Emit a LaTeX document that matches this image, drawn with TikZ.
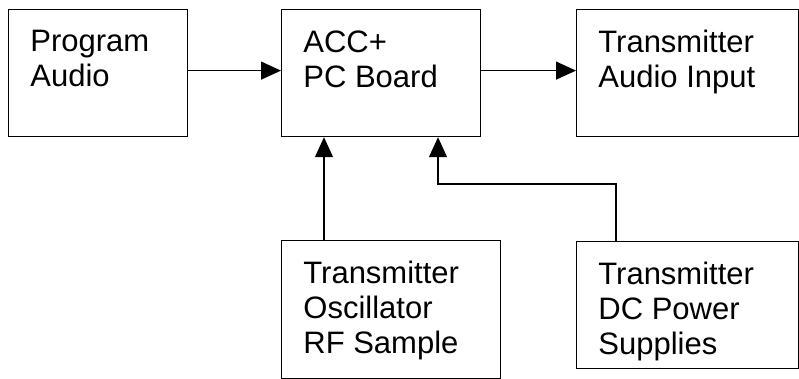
\documentclass[tikz,border=0pt]{standalone}
\usepackage{fontspec}
\setmainfont{Liberation Sans}
\usetikzlibrary{arrows.meta}
\tikzset{
  blk/.style={draw,rectangle,anchor=north west,inner sep=0pt,line width=0.6pt},
  lbl/.style={anchor=north west,inner sep=0pt,xshift=11pt,yshift=-10.5pt,align=left,
    font=\fontsize{15.5}{17.5}\selectfont},
  arr/.style={line width=0.6pt,-{Triangle[length=10pt,width=9pt]}}
}
\begin{document}
\begin{tikzpicture}[x=0.5pt,y=-0.5pt]
  \useasboundingbox (0,0) rectangle (799,379);
  % boxes
  \node[blk,minimum width=89.5pt,minimum height=63.5pt] (prog) at (8,9) {};
  \node[blk,minimum width=99.5pt,minimum height=63.5pt] (acc) at (281,9) {};
  \node[blk,minimum width=111.2pt,minimum height=63.5pt] (aud) at (576,9) {};
  \node[blk,minimum width=109.5pt,minimum height=69pt] (osc) at (281,240) {};
  \node[blk,minimum width=111.2pt,minimum height=63.5pt] (pwr) at (576,241) {};
  % texts
  \node[lbl] (progtxt) at (prog.north west) {Program\\Audio};
  \node[lbl] (acctxt) at (acc.north west) {ACC+\\PC Board};
  \node[lbl] (audtxt) at (aud.north west) {Transmitter\\Audio Input};
  \node[lbl] (osctxt) at (osc.north west) {Transmitter\\Oscillator\\RF Sample};
  \node[lbl] (pwrtxt) at (pwr.north west) {Transmitter\\DC Power\\Supplies};
  % connectors
  \draw[arr] ([yshift=1.25pt]prog.east) -- ([yshift=1.25pt]acc.west);
  \draw[arr] ([yshift=1.25pt]acc.east) -- ([yshift=1.25pt]aud.west);
  \draw[arr] ([xshift=21.5pt]osc.north west) -- ([xshift=21.5pt]acc.south west);
  \draw[arr] ([xshift=20pt]pwr.north west) -- ++(0,-57) -| ([xshift=78.5pt]acc.south west);
\end{tikzpicture}
\end{document}
